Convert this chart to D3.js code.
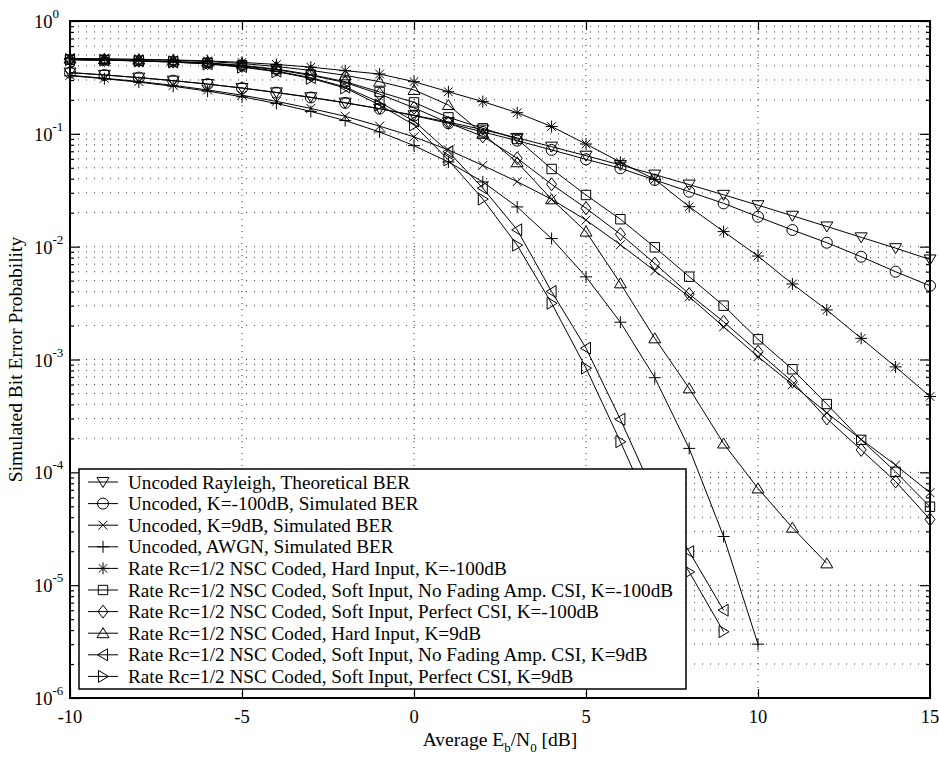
<!DOCTYPE html>
<html>
<head>
<meta charset="utf-8">
<script src="https://cdnjs.cloudflare.com/ajax/libs/d3/7.8.5/d3.min.js"></script>
<style>
  html, body { margin: 0; padding: 0; background: #fff; }
  svg { display: block; }
  text { font-family: "Liberation Serif", "Times New Roman", serif; fill: #000; }
</style>
</head>
<body>
<svg width="939" height="762"></svg>
<script>
// Eb/N0 points in dB
const ebn0 = [-10, -9, -8, -7, -6, -5, -4, -3, -2, -1, 0, 1, 2, 3, 4, 5, 6, 7, 8, 9, 10, 11, 12, 13, 14, 15];

// BER
const rayleighTheory = [0.349, 0.333, 0.315, 0.296, 0.276, 0.255, 0.233, 0.211, 0.189, 0.167, 0.146, 0.127, 0.109, 0.092, 0.077, 0.064, 0.053, 0.0435, 0.0355, 0.0288, 0.0233, 0.0188, 0.0151, 0.0121, 0.0097, 0.0077];
const uncodedK100 = [0.349, 0.332, 0.315, 0.296, 0.276, 0.254, 0.232, 0.210, 0.188, 0.167, 0.145, 0.124, 0.104, 0.087, 0.072, 0.0594, 0.0495, 0.039, 0.0307, 0.0242, 0.0184, 0.01405, 0.01084, 0.00815, 0.006, 0.0045];
const uncodedK9 = [0.330, 0.311, 0.291, 0.269, 0.245, 0.220, 0.194, 0.168, 0.143, 0.117, 0.094, 0.072, 0.0525, 0.0377, 0.0263, 0.0172, 0.0104, 0.0061, 0.0036, 0.00195, 0.00106, 0.0006, 0.000336, 0.000196, 0.000116, 0.000066];
const uncodedAwgn = [0.327, 0.308, 0.287, 0.264, 0.239, 0.213, 0.186, 0.158, 0.131, 0.104, 0.0786, 0.0563, 0.0375, 0.0225, 0.0118, 0.0054, 0.00214, 0.00069, 0.000163, 0.000027, 0.000003];
const hardK100 = [0.465, 0.462, 0.458, 0.452, 0.443, 0.430, 0.412, 0.390, 0.363, 0.339, 0.290, 0.236, 0.193, 0.154, 0.116, 0.0813, 0.056, 0.0395, 0.0226, 0.0136, 0.00826, 0.00467, 0.00275, 0.00154, 0.00086, 0.00047];
const softNoAmpK100 = [0.455, 0.450, 0.445, 0.437, 0.425, 0.405, 0.375, 0.335, 0.290, 0.235, 0.190, 0.140, 0.112, 0.090, 0.0488, 0.0287, 0.0175, 0.00987, 0.00542, 0.003, 0.00151, 0.00082, 0.000403, 0.000194, 0.000101, 0.0000496];
const softPerfK100 = [0.455, 0.450, 0.444, 0.436, 0.423, 0.400, 0.370, 0.330, 0.285, 0.225, 0.170, 0.125, 0.095, 0.0607, 0.0357, 0.0219, 0.0129, 0.0071, 0.0038, 0.00216, 0.00117, 0.000636, 0.0003, 0.000158, 0.000083, 0.0000383];
const hardK9 = [0.465, 0.460, 0.455, 0.448, 0.437, 0.420, 0.395, 0.365, 0.330, 0.290, 0.245, 0.180, 0.100, 0.056, 0.0263, 0.0136, 0.00473, 0.00154, 0.000555, 0.00018, 0.000072, 0.0000323, 0.0000156];
const softNoAmpK9 = [0.455, 0.450, 0.443, 0.433, 0.418, 0.395, 0.360, 0.315, 0.260, 0.190, 0.130, 0.0695, 0.033, 0.0141, 0.004, 0.00126, 0.000295, 0.000062, 0.0000198, 0.000006];
const softPerfK9 = [0.455, 0.450, 0.442, 0.432, 0.416, 0.390, 0.355, 0.310, 0.255, 0.180, 0.120, 0.0587, 0.0264, 0.0103, 0.00315, 0.00084, 0.000187, 0.000039, 0.0000131, 0.00000387];

const seriesLabels = [
  'Uncoded Rayleigh, Theoretical BER',
  'Uncoded, K=-100dB, Simulated BER',
  'Uncoded, K=9dB, Simulated BER',
  'Uncoded, AWGN, Simulated BER',
  'Rate Rc=1/2 NSC Coded, Hard Input, K=-100dB',
  'Rate Rc=1/2 NSC Coded, Soft Input, No Fading Amp. CSI, K=-100dB',
  'Rate Rc=1/2 NSC Coded, Soft Input, Perfect CSI, K=-100dB',
  'Rate Rc=1/2 NSC Coded, Hard Input, K=9dB',
  'Rate Rc=1/2 NSC Coded, Soft Input, No Fading Amp. CSI, K=9dB',
  'Rate Rc=1/2 NSC Coded, Soft Input, Perfect CSI, K=9dB'
];
const seriesValues = [rayleighTheory, uncodedK100, uncodedK9, uncodedAwgn, hardK100,
  softNoAmpK100, softPerfK100, hardK9, softNoAmpK9, softPerfK9];
const seriesMarkers = ['triDown', 'circle', 'x', 'plus', 'star', 'square', 'diamond', 'triUp', 'triLeft', 'triRight'];

const xTicks = [-10, -5, 0, 5, 10, 15];
const yDecades = [0, -1, -2, -3, -4, -5, -6];

// marker shapes (path strings)
const markerPath = {
  triDown: 'M-6,-4.5L6,-4.5L0,5.5Z',
  triUp: 'M-6,4.5L6,4.5L0,-5.5Z',
  triLeft: 'M4.5,-6L4.5,6L-5.5,0Z',
  triRight: 'M-4.5,-6L-4.5,6L5.5,0Z',
  circle: 'M5.5,0A5.5,5.5 0 1 1 -5.5,0A5.5,5.5 0 1 1 5.5,0Z',
  square: 'M-4.7,-4.7H4.7V4.7H-4.7Z',
  diamond: 'M0,-6.5L5,0L0,6.5L-5,0Z',
  plus: 'M-6,0H6M0,-6V6',
  x: 'M-4.5,-4.5L4.5,4.5M-4.5,4.5L4.5,-4.5',
  star: 'M-6,0H6M0,-6V6M-4.3,-4.3L4.3,4.3M-4.3,4.3L4.3,-4.3'
};

const svg = d3.select('svg');
const margin = {left: 70, right: 9, top: 21, bottom: 64};
const W = 939, H = 762;

const x = d3.scaleLinear().domain([-10, 15]).range([margin.left, W - margin.right]);
const y = d3.scaleLog().domain([1e-6, 1]).range([H - margin.bottom, margin.top]);

// grid
const minorVals = [];
yDecades.slice(1).forEach(e => { for (let m = 2; m <= 9; m++) minorVals.push(m * Math.pow(10, e)); });
const grid = svg.append('g');
grid.selectAll('line.h')
  .data(minorVals.concat(yDecades.slice(1, 6).map(e => Math.pow(10, e))))
  .join('line')
  .attr('x1', x(-10)).attr('x2', x(15))
  .attr('y1', d => y(d)).attr('y2', d => y(d))
  .style('stroke', '#333').style('stroke-width', 1).style('stroke-dasharray', '1,7');
grid.selectAll('line.v')
  .data([-5, 0, 5, 10])
  .join('line')
  .attr('x1', d => x(d)).attr('x2', d => x(d))
  .attr('y1', y(1)).attr('y2', y(1e-6))
  .style('stroke', '#333').style('stroke-width', 1).style('stroke-dasharray', '1,5');

// series lines + markers
const line = d3.line().x(d => x(d[0])).y(d => y(d[1]));
seriesValues.forEach((vals, i) => {
  const pts = vals.map((v, j) => [ebn0[j], v]);
  svg.append('path')
    .datum(pts)
    .attr('d', line)
    .style('fill', 'none').style('stroke', '#000').style('stroke-width', 1);
  svg.append('g').selectAll('path')
    .data(pts)
    .join('path')
    .attr('transform', d => `translate(${x(d[0])},${y(d[1])})`)
    .attr('d', markerPath[seriesMarkers[i]])
    .style('fill', 'none').style('stroke', '#000').style('stroke-width', 1);
});

// axes: ticks inside on all sides
const tickStyle = g => g.call(s => s.select('.domain').remove())
  .call(s => s.selectAll('line').style('stroke', '#000').style('stroke-width', 1.2))
  .call(s => s.selectAll('text').remove());
svg.append('g').attr('transform', `translate(0,${y(1e-6)})`)
  .call(d3.axisTop(x).tickValues(xTicks).tickSize(9)).call(tickStyle);
svg.append('g').attr('transform', `translate(0,${y(1)})`)
  .call(d3.axisBottom(x).tickValues(xTicks).tickSize(9)).call(tickStyle);
svg.append('g').attr('transform', `translate(${x(-10)},0)`)
  .call(d3.axisRight(y).tickValues(yDecades.map(e => Math.pow(10, e))).tickSize(10)).call(tickStyle);
svg.append('g').attr('transform', `translate(${x(-10)},0)`)
  .call(d3.axisRight(y).tickValues(minorVals).tickSize(4)).call(tickStyle);
svg.append('g').attr('transform', `translate(${x(15)},0)`)
  .call(d3.axisLeft(y).tickValues(yDecades.map(e => Math.pow(10, e))).tickSize(10)).call(tickStyle);
svg.append('g').attr('transform', `translate(${x(15)},0)`)
  .call(d3.axisLeft(y).tickValues(minorVals).tickSize(4)).call(tickStyle);

// frame
svg.append('rect')
  .attr('x', x(-10)).attr('y', y(1))
  .attr('width', x(15) - x(-10)).attr('height', y(1e-6) - y(1))
  .style('fill', 'none').style('stroke', '#000').style('stroke-width', 2);

// tick labels
svg.selectAll('text.xt')
  .data(xTicks)
  .join('text')
  .attr('x', d => x(d)).attr('y', y(1e-6) + 25)
  .attr('text-anchor', 'middle')
  .style('font-size', '18.5px')
  .text(d => d);
const yl = svg.selectAll('text.yt')
  .data(yDecades)
  .join('text')
  .attr('x', 34).attr('y', d => y(Math.pow(10, d)) + 7)
  .style('font-size', '18.5px');
yl.append('tspan').text('10');
yl.append('tspan').attr('dy', -10).style('font-size', '13px').text(d => d);

// axis titles
const xt = svg.append('text')
  .attr('x', (x(-10) + x(15)) / 2).attr('y', 746)
  .attr('text-anchor', 'middle')
  .style('font-size', '19.5px');
xt.append('tspan').text('Average E');
xt.append('tspan').attr('dy', 6).style('font-size', '13px').text('b');
xt.append('tspan').attr('dy', -6).text('/N');
xt.append('tspan').attr('dy', 6).style('font-size', '13px').text('0');
xt.append('tspan').attr('dy', -6).text(' [dB]');

svg.append('text')
  .attr('transform', `translate(22,${(y(1) + y(1e-6)) / 2}) rotate(-90)`)
  .attr('text-anchor', 'middle')
  .style('font-size', '19.5px')
  .text('Simulated Bit Error Probability');

// legend
const lg = svg.append('g');
lg.append('rect')
  .attr('x', 79).attr('y', 469).attr('width', 607).attr('height', 220)
  .style('fill', '#fff').style('stroke', '#000').style('stroke-width', 1.5);
const rows = lg.selectAll('g.row')
  .data(seriesLabels)
  .join('g')
  .attr('transform', (d, i) => `translate(0,${482 + i * 21.6})`);
rows.append('line')
  .attr('x1', 88).attr('x2', 118)
  .style('stroke', '#000').style('stroke-width', 1);
rows.append('path')
  .attr('transform', 'translate(103,0)')
  .attr('d', (d, i) => markerPath[seriesMarkers[i]])
  .style('fill', 'none').style('stroke', '#000').style('stroke-width', 1);
rows.append('text')
  .attr('x', 128).attr('y', 6.5)
  .style('font-size', '19.2px')
  .text(d => d);
</script>
</body>
</html>
